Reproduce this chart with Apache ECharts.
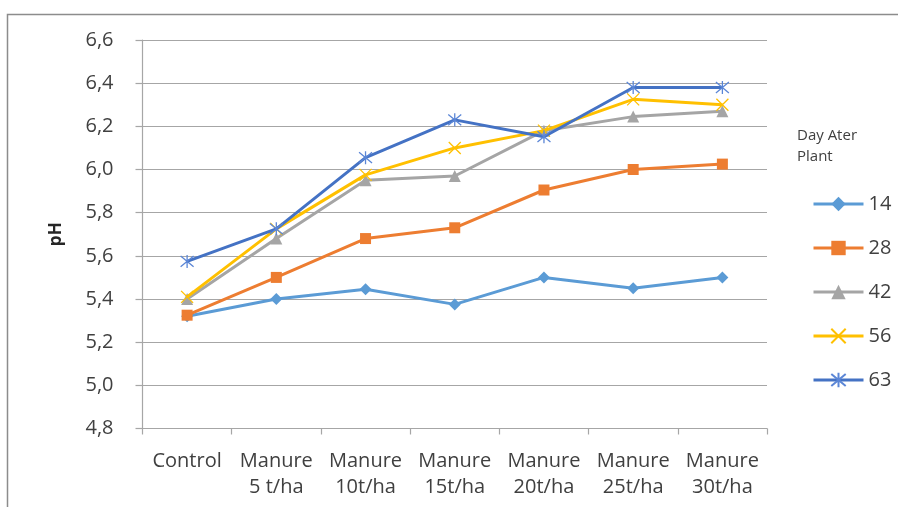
<!DOCTYPE html>
<html>
<head>
<meta charset="utf-8">
<script src="https://cdn.jsdelivr.net/npm/echarts@6/dist/echarts.min.js"></script>
<style>html,body{margin:0;padding:0;background:#fff}#c{width:898px;height:507px}</style>
</head>
<body>
<div id="c"></div>
<script>
const categories = ['Control', 'Manure\n5 t/ha', 'Manure\n10t/ha', 'Manure\n15t/ha', 'Manure\n20t/ha', 'Manure\n25t/ha', 'Manure\n30t/ha'];
const seriesNames = ['14', '28', '42', '56', '63'];
const day14 = [5.32, 5.40, 5.445, 5.375, 5.50, 5.45, 5.50];
const day28 = [5.325, 5.50, 5.68, 5.73, 5.905, 6.00, 6.025];
const day42 = [5.40, 5.68, 5.95, 5.97, 6.18, 6.245, 6.27];
const day56 = [5.41, 5.725, 5.975, 6.10, 6.18, 6.325, 6.30];
const day63 = [5.574, 5.725, 6.055, 6.23, 6.152, 6.38, 6.38];
const yTicks = { min: 4.8, max: 6.6, interval: 0.2 };

const colors = ['#5b9bd5', '#ed7d31', '#a5a5a5', '#ffc000', '#4472c4'];
const symbols = [
  'diamond',
  'rect',
  'triangle',
  'path://M0,0L10,10M10,0L0,10',
  'path://M0,0L10,10M10,0L0,10M5,-1L5,11'
];
const sizes = [12, 11, 12, 12, 13];
const dataSets = [day14, day28, day42, day56, day63];
const FONT = 'Open Sans';
const txt = '#404040';

const chart = echarts.init(document.getElementById('c'));
chart.setOption({
  animation: false,
  textStyle: { fontFamily: FONT },
  graphic: [
    { type: 'rect', shape: { x: 7.5, y: 14.5, width: 900, height: 520 }, style: { fill: 'none', stroke: '#8c8c8c', lineWidth: 1.5 }, silent: true },
    { type: 'text', left: 797, top: 125, style: { text: 'Day Ater\nPlant', font: '15px "Open Sans"', fill: txt, lineHeight: 21 } }
  ],
  grid: { left: 142.5, right: 131, top: 40, bottom: 78.5, containLabel: false },
  legend: {
    orient: 'vertical', left: 807, top: 189,
    itemWidth: 50, itemHeight: 18, itemGap: 24,
    data: seriesNames,
    lineStyle: { width: 3 },
    textStyle: { fontFamily: FONT, fontSize: 20, color: txt }
  },
  xAxis: {
    type: 'category', data: categories, boundaryGap: true,
    axisLine: { lineStyle: { color: '#a6a6a6', width: 1.2 } },
    axisTick: { show: true, length: 6, lineStyle: { color: '#a6a6a6', width: 1.2 } },
    axisLabel: { fontFamily: FONT, fontSize: 20, color: txt, margin: 20, lineHeight: 26, interval: 0 },
    splitLine: { show: false }
  },
  yAxis: {
    type: 'value', min: yTicks.min, max: yTicks.max, interval: yTicks.interval,
    name: 'pH', nameLocation: 'middle', nameGap: 78, nameRotate: 90,
    nameTextStyle: { fontFamily: FONT, fontSize: 17, fontWeight: 'bold', color: '#262626' },
    axisLine: { show: true, lineStyle: { color: '#a6a6a6', width: 1.2 } },
    axisTick: { show: true, length: 7, lineStyle: { color: '#a6a6a6', width: 1.2 } },
    axisLabel: { fontFamily: FONT, fontSize: 20, color: txt, margin: 29, formatter: v => v.toFixed(1).replace('.', ',') },
    splitLine: { show: true, lineStyle: { color: '#a6a6a6', width: 1.2 } }
  },
  series: seriesNames.map((n, i) => ({
    name: n, type: 'line', data: dataSets[i],
    symbol: symbols[i], symbolSize: sizes[i], showSymbol: true,
    lineStyle: { color: colors[i], width: 3 },
    itemStyle: i >= 3
      ? { color: colors[i], borderColor: i === 4 ? '#5b86d6' : colors[i], borderWidth: 1.3 }
      : { color: colors[i], borderWidth: 0 },
    z: 2 + i
  }))
});
</script>
</body>
</html>
